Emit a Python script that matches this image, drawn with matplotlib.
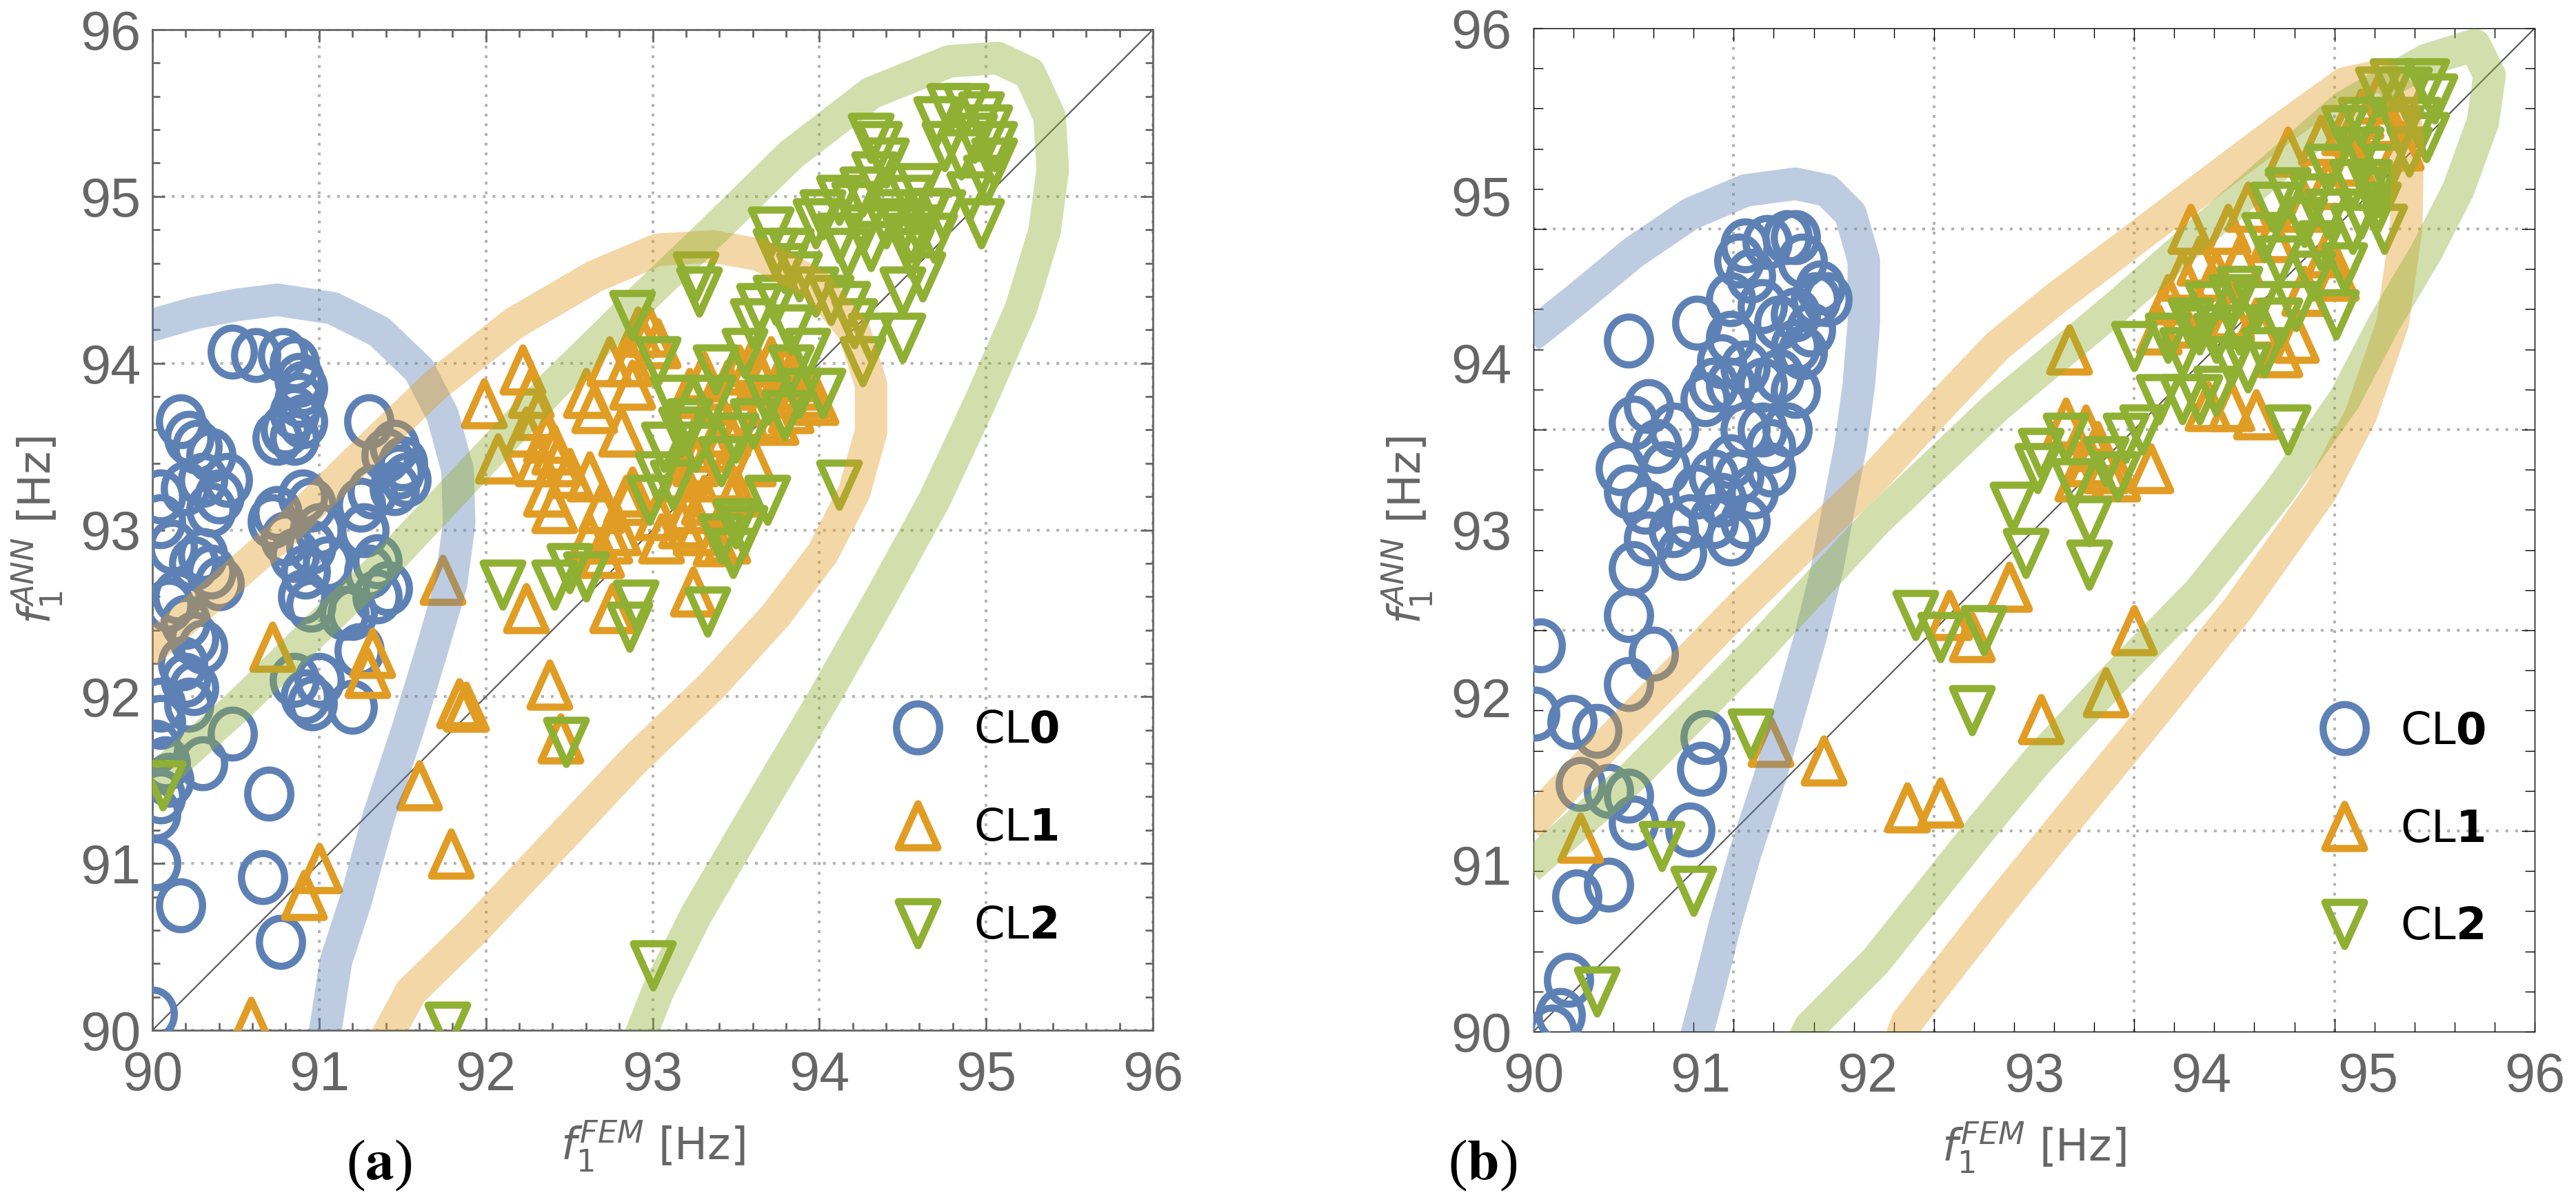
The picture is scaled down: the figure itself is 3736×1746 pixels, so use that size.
import numpy as np
import matplotlib
matplotlib.use("Agg")
import matplotlib.pyplot as plt
from matplotlib.path import Path
from matplotlib.markers import MarkerStyle
from matplotlib.ticker import FixedLocator, MultipleLocator

plt.rcParams["font.family"] = "DejaVu Sans"
plt.rcParams["mathtext.fontset"] = "dejavusans"

# Mathematica default colours
c_blue = "#5e81b5"
c_orange = "#e19c24"
c_green = "#8fb032"
grey = "#666666"

labels = [r"CL$\mathbf{0}$", r"CL$\mathbf{1}$", r"CL$\mathbf{2}$"]

# ---------------- panel (a) data ----------------
a0_x = [90.48, 90.62, 90.78, 90.85, 90.88, 90.9, 90.88, 90.85, 90.8, 90.85, 90.9, 90.75,
        90.17, 90.22, 90.27, 90.35, 90.45, 90.4, 90.35, 90.3, 90.2, 90.05, 90.05, 90.12,
        90.25, 90.3, 90.35, 90.4, 90.15, 90.1, 90.2, 90.25, 90.3, 90.18, 90.2, 90.25, 90.22,
        90.05, 90.05, 90.02, 90.08, 90.1, 90.05, 90.02, 90.48, 90.3, 90.7, 90.66, 90.17,
        90.77, 90.02, 90.0,
        90.72, 90.8, 90.85, 90.95, 91.0, 90.92, 91.05, 90.95, 90.9, 90.85, 90.92, 90.96,
        91.0, 90.9, 90.95, 90.75,
        91.3, 91.45, 91.5, 91.52, 91.48, 91.4, 91.45, 91.32, 91.25, 91.27, 91.35, 91.3,
        91.41, 91.35, 91.2, 91.24, 91.2, 91.15]
a0_y = [94.07, 94.05, 94.05, 94.0, 93.9, 93.85, 93.78, 93.7, 93.6, 93.55, 93.65, 93.55,
        93.65, 93.55, 93.5, 93.45, 93.3, 93.2, 93.12, 93.3, 93.25, 93.2, 93.05, 92.9,
        92.8, 92.85, 92.75, 92.68, 92.6, 92.55, 92.45, 92.35, 92.3, 92.2, 92.1, 92.05, 91.95,
        91.95, 91.85, 91.7, 91.6, 91.5, 91.4, 91.3, 91.78, 91.6, 91.42, 90.92, 90.75,
        90.53, 91.0, 90.1,
        93.05, 92.95, 92.85, 92.9, 93.0, 92.75, 92.8, 92.55, 92.6, 92.1, 92.0, 91.96,
        92.1, 93.2, 93.15, 93.1,
        93.65, 93.5, 93.4, 93.3, 93.35, 93.45, 93.25, 93.23, 93.15, 93.0, 92.81, 92.75,
        92.65, 92.6, 92.5, 92.28, 91.94, 92.5]

a1_x = [93.22, 93.31, 93.36, 93.45, 93.52, 93.6, 93.64, 93.71, 93.79, 93.83, 93.88, 93.93,
        93.98, 93.55, 93.64, 93.74, 93.83, 93.45, 93.36, 93.26, 93.41, 93.5, 93.6, 93.31,
        93.22, 93.26, 93.45, 93.17,
        91.99, 92.07, 92.22, 92.27, 92.31, 92.36, 92.41, 92.43, 92.24, 92.31, 92.36, 92.41,
        92.5, 92.6, 92.65, 92.62, 92.69, 92.74, 92.74, 92.86, 92.91, 92.98, 93.03, 92.88,
        92.81, 92.88, 92.84, 92.79, 92.69, 92.62, 93.03, 93.17, 93.05,
        92.24, 92.38, 92.45, 91.84, 91.88, 91.74, 91.6, 91.79, 91.32, 91.29, 90.72, 90.91,
        91.0, 90.59, 92.76, 93.24, 93.38]
a1_y = [93.82, 93.92, 93.78, 93.87, 93.96, 94.01, 93.92, 94.01, 93.96, 93.92, 93.87, 93.82,
        93.78, 93.69, 93.69, 93.66, 93.73, 93.59, 93.5, 93.41, 93.32, 93.23, 93.41, 93.18,
        93.13, 93.0, 92.95, 93.32,
        93.76, 93.43, 93.96, 93.82, 93.69, 93.55, 93.48, 93.41, 93.59, 93.41, 93.23, 93.13,
        93.34, 93.82, 93.73, 93.32, 93.13, 92.95, 94.01, 94.01, 94.19, 94.19, 94.12, 93.87,
        93.59, 93.23, 93.18, 93.0, 92.86, 92.95, 93.09, 93.04, 92.95,
        92.53, 92.07, 91.75, 91.96, 91.94, 92.7, 91.47, 91.06, 92.26, 92.14, 92.3, 90.81,
        90.97, 90.05, 92.53, 92.63, 92.93]

a2_x = [94.78, 94.88, 94.97, 95.02, 94.93, 95.05, 94.85, 95.0, 94.7, 94.75, 94.9, 94.97,
        95.05, 94.6, 94.65, 94.55,
        94.31, 94.36, 94.4, 94.33, 94.26, 94.21, 94.12, 94.02, 93.98, 94.12, 94.17, 94.26,
        94.31, 94.4, 94.5, 94.55, 94.64, 94.6, 94.45, 94.55,
        93.71, 93.74, 93.83, 93.79, 93.88, 93.98, 94.07, 94.17, 94.21, 94.31, 94.5, 94.26,
        94.12, 94.5, 94.62, 94.69, 94.74,
        93.26, 93.28, 92.88, 93.03, 93.12, 93.17, 93.22, 93.36, 93.38, 93.55, 93.6, 93.64,
        93.74, 93.83, 93.93, 93.83, 93.69, 93.79, 93.88, 94.02, 93.6, 93.5, 93.41, 93.26,
        93.07, 93.03, 92.98, 93.12, 93.69, 93.5, 93.41, 93.48, 93.55,
        92.1, 92.41, 92.5, 92.6, 92.86, 93.33, 92.48, 93.0, 91.77, 92.9, 90.06]
a2_y = [95.53, 95.53, 95.48, 95.4, 95.35, 95.2, 95.25, 95.1, 95.45, 95.3, 95.0, 94.84,
        95.3, 95.05, 94.9, 94.75,
        95.35, 95.3, 95.2, 95.12, 95.03, 94.94, 94.98, 94.89, 94.84, 94.75, 94.66, 94.8,
        94.7, 94.84, 94.8, 94.66, 94.89, 94.8, 94.89, 94.98,
        94.79, 94.66, 94.66, 94.57, 94.52, 94.43, 94.38, 94.34, 94.24, 94.15, 94.15, 94.01,
        93.27, 94.43, 94.52, 94.75, 94.89,
        94.52, 94.43, 94.29, 94.01, 93.78, 93.59, 93.64, 93.78, 93.96, 94.06, 94.24, 94.33,
        94.38, 94.2, 94.06, 93.96, 93.78, 93.69, 93.82, 93.82, 93.64, 93.55, 93.41, 93.5,
        93.5, 93.32, 93.18, 93.27, 93.18, 93.04, 92.95, 92.86, 93.0,
        92.67, 92.67, 92.77, 92.72, 92.42, 92.51, 91.73, 90.39, 90.02, 92.55, 91.47]

# thick translucent guide bands, panel (a)
a_band0_x = [89.97, 90.25, 90.51, 90.75, 91.08, 91.36, 91.6, 91.74, 91.83, 91.84, 91.79,
             91.67, 91.53, 91.36, 91.22, 91.1, 91.03]
a_band0_y = [94.22, 94.3, 94.35, 94.38, 94.33, 94.19, 93.96, 93.69, 93.36, 93.04, 92.67,
             92.26, 91.8, 91.29, 90.78, 90.41, 89.95]
a_band1_x = [89.96, 90.27, 90.75, 91.22, 91.7, 92.17, 92.65, 93.03, 93.36, 93.64, 93.98,
             94.21, 94.31, 94.31, 94.21, 94.02, 93.74, 93.36, 92.88, 92.41, 91.93, 91.55, 91.4]
a_band1_y = [92.26, 92.53, 92.95, 93.41, 93.87, 94.24, 94.52, 94.68, 94.7, 94.65, 94.47,
             94.19, 93.87, 93.59, 93.23, 92.86, 92.49, 92.07, 91.61, 91.11, 90.6, 90.23, 89.95]
a_band2_x = [89.96, 90.51, 90.98, 91.46, 91.93, 92.41, 92.88, 93.36, 93.83, 94.31, 94.78,
             95.07, 95.26, 95.38, 95.4, 95.35, 95.21, 94.97, 94.69, 94.36, 94.02, 93.64,
             93.26, 93.03, 92.92]
a_band2_y = [91.45, 91.94, 92.4, 92.86, 93.36, 93.87, 94.33, 94.79, 95.25, 95.62, 95.81,
             95.83, 95.74, 95.48, 95.16, 94.79, 94.33, 93.78, 93.18, 92.58, 91.98, 91.34,
             90.69, 90.23, 89.95]

# ---------------- panel (b) data ----------------
b0_x = [90.57, 91.18, 91.23, 91.27, 91.4, 91.52, 91.57, 91.61, 91.69, 91.72, 91.76, 91.66,
        91.57, 91.47, 91.37, 91.3, 91.18, 91.13, 91.08, 91.03, 91.18, 91.27, 91.37, 91.47,
        91.57, 91.52, 91.37, 91.27, 91.18, 91.08, 90.98, 91.13, 91.23, 91.32, 91.42, 91.27,
        91.18, 90.94, 90.89, 90.84, 91.08, 91.42, 91.61, 91.57, 90.98,
        90.6, 90.52, 90.57, 90.6, 90.57, 90.72, 90.57, 90.69, 90.74, 90.84, 90.69, 90.67,
        90.79,
        90.04, 90.01, 90.23, 90.38, 90.28, 90.45, 90.57, 90.6, 91.03, 91.01, 90.94, 90.26,
        90.45, 90.21, 90.16, 90.11]
b0_y = [94.13, 94.38, 94.61, 94.7, 94.72, 94.75, 94.75, 94.61, 94.38, 94.45, 94.38, 94.2,
        94.1, 94.24, 94.34, 94.52, 94.15, 94.01, 93.87, 93.78, 93.87, 93.97, 93.87, 93.92,
        93.83, 93.6, 93.6, 93.6, 93.41, 93.32, 93.23, 93.18, 93.32, 93.23, 93.36, 93.05,
        92.95, 93.05, 92.86, 93.0, 93.05, 93.5, 94.06, 94.29, 94.24,
        93.64, 93.37, 93.23, 92.77, 92.49, 92.26, 92.08, 92.95, 93.5, 93.6, 93.74, 93.14,
        93.37,
        92.31, 91.9, 91.85, 91.8, 91.48, 91.44, 91.41, 91.25, 91.76, 91.57, 91.21, 90.81,
        90.88, 90.31, 90.1, 90.0]

b1_x = [90.28, 91.42, 91.74, 92.24, 92.44, 92.49, 92.63, 92.85, 93.04, 93.43, 93.6, 93.7,
        93.21, 93.19, 93.31, 93.33, 93.43, 93.5, 93.26, 93.38,
        93.94, 94.16, 94.28, 94.52, 94.72, 94.86, 94.96, 94.91, 94.76, 94.62, 94.43, 94.23,
        94.09, 93.89, 93.99, 93.8, 93.75, 93.89, 94.18, 94.33, 94.57, 94.62, 94.81, 94.76,
        94.04, 94.18, 94.33, 94.47, 95.1, 95.06, 95.2]
b1_y = [91.16, 91.73, 91.62, 91.34, 91.37, 92.49, 92.36, 92.66, 91.87, 92.03, 92.4, 93.37,
        94.08, 93.64, 93.6, 93.41, 93.37, 93.32, 93.32, 93.5,
        94.8, 94.8, 94.93, 95.26, 95.33, 95.39, 95.49, 95.21, 95.07, 94.93, 94.75, 94.61,
        94.52, 94.52, 94.61, 94.38, 94.2, 94.24, 94.29, 94.24, 94.15, 94.43, 94.52, 94.66,
        93.74, 93.74, 93.69, 94.06, 95.44, 95.58, 95.3]

b2_x = [90.38, 90.77, 90.96, 91.3, 92.29, 92.44, 92.7, 92.63,
        92.87, 92.95, 93.02, 93.04, 93.19, 93.24, 93.33, 93.33, 93.43, 93.5, 93.55, 93.65,
        93.6, 93.75, 93.8, 93.89, 93.99, 94.09, 93.89, 93.99, 94.09, 94.18, 94.23, 94.18,
        94.33, 94.28, 94.38, 94.47, 94.52, 94.57, 94.67, 94.72, 94.62, 94.52, 94.67, 94.76,
        94.81, 94.86, 94.91, 94.96, 95.06, 95.1, 95.01, 94.96, 94.86, 94.96, 95.06, 95.15,
        95.25, 95.35, 95.4, 95.3, 95.2, 95.35, 95.25, 95.1, 94.91, 95.06, 94.76, 94.43,
        94.47, 94.38, 94.23, 94.04, 93.94]
b2_y = [90.24, 91.11, 90.84, 91.78, 92.49, 92.36, 92.4, 91.92,
        93.14, 92.86, 93.37, 93.46, 93.55, 93.28, 93.05, 92.79, 93.41, 93.32, 93.55, 93.6,
        94.1, 93.78, 94.15, 93.78, 93.78, 93.83, 94.06, 94.2, 94.15, 94.01, 94.2, 94.38,
        94.34, 93.97, 94.06, 94.24, 93.6, 94.34, 94.52, 94.7, 94.84, 95.02, 94.98, 95.16,
        94.29, 94.57, 94.8, 94.89, 94.93, 94.8, 95.07, 95.26, 95.39, 95.44, 95.62, 95.67,
        95.62, 95.67, 95.58, 95.44, 95.39, 95.35, 95.26, 95.16, 95.07, 95.02, 94.89, 94.93,
        94.61, 94.75, 94.43, 94.34, 94.24]

b_band0_x = [89.97, 90.26, 90.6, 90.94, 91.27, 91.57, 91.76, 91.9, 91.98, 91.98, 91.95,
             91.9, 91.83, 91.76, 91.66, 91.54, 91.42, 91.27, 91.15, 91.06, 90.97]
b_band0_y = [94.15, 94.38, 94.66, 94.89, 95.03, 95.07, 95.03, 94.89, 94.61, 94.24, 93.87,
             93.5, 93.14, 92.77, 92.36, 91.94, 91.53, 91.07, 90.65, 90.29, 89.95]
b_band1_x = [89.97, 90.4, 90.84, 91.2, 91.57, 92.05, 92.4, 92.78, 93.15, 93.5, 93.99,
             94.47, 94.86, 95.1, 95.2, 95.24, 95.23, 95.15, 94.96, 94.72, 94.23, 93.75,
             93.26, 92.78, 92.24, 92.2]
b_band1_y = [91.23, 91.68, 92.13, 92.5, 92.86, 93.32, 93.7, 94.1, 94.4, 94.66, 95.03,
             95.39, 95.67, 95.72, 95.6, 95.35, 94.8, 94.24, 93.69, 93.23, 92.54, 91.94,
             91.34, 90.75, 90.06, 89.95]
b_band2_x = [89.97, 90.6, 91.32, 92.05, 92.78, 93.5, 94.23, 94.86, 95.35, 95.64, 95.73,
             95.69, 95.54, 95.35, 95.1, 94.86, 94.47, 93.99, 93.5, 93.02, 92.68, 92.05,
             91.66, 91.62]
b_band2_y = [90.98, 91.53, 92.26, 93.05, 93.74, 94.34, 94.98, 95.53, 95.81, 95.9, 95.72,
             95.44, 95.03, 94.66, 94.24, 93.78, 93.23, 92.63, 92.13, 91.62, 91.21, 90.42,
             90.03, 89.95]

lims = [90, 96]

# open markers, slightly taller than wide like the original
t = np.linspace(0, 2 * np.pi, 80)
ring = Path(np.column_stack([0.9 * np.cos(t), np.sin(t)]), closed=True)
tri_up = Path([(0, 1), (-0.9, -1), (0.9, -1), (0, 1)], closed=True)
tri_dn = Path([(0, -1), (-0.9, 1), (0.9, 1), (0, -1)], closed=True)
m_ring = MarkerStyle(ring, joinstyle="round")
m_up = MarkerStyle(tri_up, joinstyle="miter")
m_dn = MarkerStyle(tri_dn, joinstyle="miter")

fig = plt.figure(figsize=(37.36, 17.46), dpi=100)
ax_a = fig.add_axes([221 / 3736, 1 - 1494 / 1746, 1451 / 3736, 1451 / 1746])
ax_b = fig.add_axes([2224 / 3736, 1 - 1496 / 1746, 1452 / 3736, 1455 / 1746])


def draw_panel(ax, pts, bands, leg_x):
    ax.set_xlim(lims)
    ax.set_ylim(lims)
    ax.plot(lims, lims, color="#555555", lw=1.5, zorder=2)
    handles = []
    for (x, y), m, c, ms in zip(pts, [m_ring, m_up, m_dn], [c_blue, c_orange, c_green],
                                [50, 46, 46]):
        h, = ax.plot(x, y, ls="none", marker=m, ms=ms, mfc="none", mec=c, mew=7.5,
                     zorder=3)
        handles.append(h)
    for (x, y), c in zip(bands, [c_blue, c_orange, c_green]):
        ax.plot(x, y, color=c, alpha=0.4, lw=34, solid_capstyle="butt",
                solid_joinstyle="round", zorder=4)
    leg = ax.legend(handles, labels, loc="center left", bbox_to_anchor=(leg_x, 0.2017),
                    frameon=False, fontsize=46, handlelength=1.0, handletextpad=0.76,
                    labelspacing=1.25, borderpad=0, borderaxespad=0)
    leg.set_zorder(6)
    ax.set_xlabel(r"$f_{\mathit{1}}^{FEM}$ [Hz]", fontsize=46, color=grey)
    ax.set_ylabel(r"$f_{\mathit{1}}^{ANN}$ [Hz]", fontsize=46, color=grey)
    ax.xaxis.label.set_va("baseline")
    ax.xaxis.set_label_coords(0.5, -0.1296)


grid_kw = dict(color="#b3b3b3", lw=2.9, linestyle=(0, (1, 2.5)))

# ---- panel (a)
draw_panel(ax_a, [(a0_x, a0_y), (a1_x, a1_y), (a2_x, a2_y)],
           [(a_band0_x, a_band0_y), (a_band1_x, a_band1_y), (a_band2_x, a_band2_y)], 0.743)
ax_a.set_xticks(range(90, 97))
ax_a.set_yticks(range(90, 97))
ax_a.xaxis.set_minor_locator(MultipleLocator(0.2))
ax_a.yaxis.set_minor_locator(MultipleLocator(0.2))
ax_a.grid(True, which="major", **grid_kw)
ax_a.set_axisbelow(True)
ax_a.tick_params(which="both", direction="in", top=True, right=True, color=grey,
                 width=2, labelcolor=grey, labelsize=57)
ax_a.tick_params(which="major", length=13)
ax_a.tick_params(which="minor", length=8)
ax_a.tick_params(axis="x", pad=21)
ax_a.tick_params(axis="y", pad=12)
for s in ax_a.spines.values():
    s.set_color(grey)
    s.set_linewidth(2)
for lab in ax_a.get_xticklabels() + ax_a.get_yticklabels():
    lab.set_family("Liberation Sans")
ax_a.yaxis.set_label_coords(-0.0875, 0.5)

# ---- panel (b): grid every 1.2 Hz, labels at whole Hz
draw_panel(ax_b, [(b0_x, b0_y), (b1_x, b1_y), (b2_x, b2_y)],
           [(b_band0_x, b_band0_y), (b_band1_x, b_band1_y), (b_band2_x, b_band2_y)], 0.788)
grid_b = [91.2, 92.4, 93.6, 94.8]
for axis in (ax_b.xaxis, ax_b.yaxis):
    axis.set_major_locator(FixedLocator(grid_b))
    axis.set_minor_locator(FixedLocator(np.linspace(90, 96, 26)))
ax_b.grid(True, which="major", **grid_kw)
ax_b.set_axisbelow(True)
ax_b.tick_params(which="both", direction="in", top=True, right=True, color="black",
                 width=1, labelbottom=False, labelleft=False)
ax_b.tick_params(which="major", length=14)
ax_b.tick_params(which="minor", length=10)
for s in ax_b.spines.values():
    s.set_color("black")
    s.set_linewidth(1)
sec_x = ax_b.secondary_xaxis("bottom")
sec_x.set_xticks(range(90, 97))
sec_x.tick_params(length=0, labelsize=57, labelcolor=grey, pad=21)
sec_x.spines["bottom"].set_visible(False)
sec_y = ax_b.secondary_yaxis("left")
sec_y.set_yticks(range(90, 97))
sec_y.tick_params(length=0, labelsize=57, labelcolor=grey, pad=23)
sec_y.spines["left"].set_visible(False)
for lab in sec_x.get_xticklabels() + sec_y.get_yticklabels():
    lab.set_family("Liberation Sans")
ax_b.yaxis.set_label_coords(-0.0985, 0.5)

# sub-figure tags
fig.text(550 / 3736, 1 - 1690 / 1746, r"($\mathbf{a}$)", family="Liberation Serif",
         math_fontfamily="stix", fontsize=60, ha="center", va="center")
fig.text(2150 / 3736, 1 - 1690 / 1746, r"($\mathbf{b}$)", family="Liberation Serif",
         math_fontfamily="stix", fontsize=60, ha="center", va="center")

fig.savefig("out.png", dpi=100)
